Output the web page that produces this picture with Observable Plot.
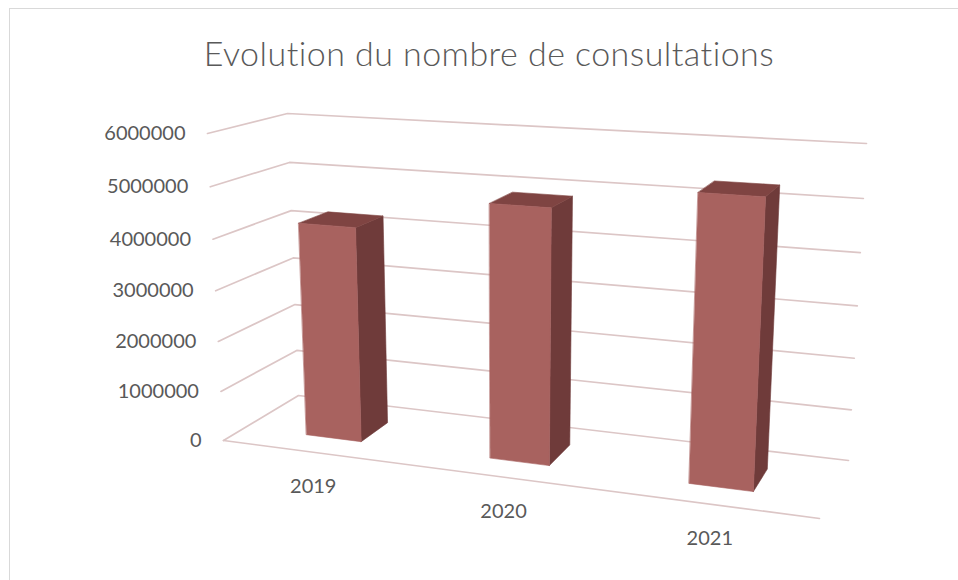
<!DOCTYPE html>
<html>
<head>
<meta charset="utf-8">
<script src="https://cdn.jsdelivr.net/npm/d3@7"></script>
<script src="https://cdn.jsdelivr.net/npm/@observablehq/plot@0.6"></script>
<style>
  html, body { margin: 0; padding: 0; background: #fff; overflow: hidden; width: 958px; height: 580px; }
  #frame { position: absolute; left: 9px; top: 8px; width: 1000px; height: 700px;
           border-left: 1px solid #d9d9d9; border-top: 1px solid #d9d9d9; box-sizing: border-box; }
  #title { position: absolute; left: 9px; top: 13px; width: 960px; height: 80px; text-align: center;
           font-family: Lato, "Open Sans", sans-serif; font-weight: 300; font-size: 34px; letter-spacing: 0.45px;
           color: #595959; line-height: 80px; white-space: nowrap; }
  #chart { position: absolute; left: 0; top: 88px; }
</style>
</head>
<body>
<div id="frame"></div>
<div id="title">Evolution du nombre de consultations</div>
<div id="chart"></div>
<script>
// ---- data ----
const years = ["2019", "2020", "2021"];
const consultations = [4240000, 4880000, 5330000];
const yTicks = [0, 1000000, 2000000, 3000000, 4000000, 5000000, 6000000];
const yMax = 6000000;

// ---- layout: 3-D view (page coordinates of the plot box corners) ----
const SVG_TOP = 88;
const W = 958, H = 492;
const box = {
  c000: [223, 440], c010: [207, 133], c001: [298, 395], c011: [287, 113],
  c100: [819, 518], c110: [837, 170], c101: [848, 460], c111: [866, 143]
};
const persU = 1.128, persV = 1.05;       // perspective foreshortening
const barWidth = 0.102, depth0 = 0.3, depth1 = 0.7;

const warp = (s, r) => s / (r + (1 - r) * s);
function P(u, t, w) {
  const a = warp(u, persU), b = warp(t, persV);
  const k = (c, i) => box[c][i];
  const res = [0, 1].map(i =>
    k("c000", i) * (1 - a) * (1 - b) * (1 - w) + k("c100", i) * a * (1 - b) * (1 - w) +
    k("c010", i) * (1 - a) * b * (1 - w) + k("c110", i) * a * b * (1 - w) +
    k("c001", i) * (1 - a) * (1 - b) * w + k("c101", i) * a * (1 - b) * w +
    k("c011", i) * (1 - a) * b * w + k("c111", i) * a * b * w);
  return { x: res[0], y: res[1] - SVG_TOP };
}

// gridlines: left wall + back wall for each tick
const gridPts = yTicks.flatMap(v => {
  const t = v / yMax;
  return [P(0, t, 0), P(0, t, 1), P(1, t, 1)].map(p => ({ ...p, tick: v }));
});
const floorEdge = [P(0, 0, 0), P(1, 0, 0)];

// bar faces
const bars = years.map((yr, i) => {
  const c = (i + 0.5) / years.length;
  return { yr, u0: c - barWidth / 2, u1: c + barWidth / 2, t: consultations[i] / yMax };
});
const face = (pts, id) => pts.map(p => ({ ...p, id }));
const fronts = bars.flatMap(b => face([P(b.u0, 0, depth0), P(b.u1, 0, depth0), P(b.u1, b.t, depth0), P(b.u0, b.t, depth0)], b.yr));
const sides  = bars.flatMap(b => face([P(b.u1, 0, depth0), P(b.u1, 0, depth1), P(b.u1, b.t, depth1), P(b.u1, b.t, depth0)], b.yr));
const tops   = bars.flatMap(b => face([P(b.u0, b.t, depth0), P(b.u1, b.t, depth0), P(b.u1, b.t, depth1), P(b.u0, b.t, depth1)], b.yr));

const chart = Plot.plot({
  width: W, height: H,
  marginTop: 0, marginRight: 0, marginBottom: 0, marginLeft: 0,
  x: { type: "linear", domain: [0, W], range: [0, W], axis: null },
  y: { type: "linear", domain: [0, H], range: [0, H], axis: null },
  style: { fontFamily: "Lato, 'Open Sans', sans-serif", fontSize: "20px", color: "#595959", background: "transparent", overflow: "visible" },
  marks: [
    Plot.line(gridPts, { x: "x", y: "y", z: "tick", stroke: "#dcc6c6", strokeWidth: 1.7 }),
    Plot.line(floorEdge, { x: "x", y: "y", stroke: "#dcc6c6", strokeWidth: 1.7 }),
    Plot.line(sides, { x: "x", y: "y", z: "id", curve: "linear-closed", fill: "#6f3b3a", stroke: "#6f3b3a", strokeWidth: 0.6 }),
    Plot.line(tops, { x: "x", y: "y", z: "id", curve: "linear-closed", fill: "#7f4442", stroke: "#7f4442", strokeWidth: 0.6 }),
    Plot.line(fronts, { x: "x", y: "y", z: "id", curve: "linear-closed", fill: "#a8625f", stroke: "#a8625f", strokeWidth: 0.6 }),
    Plot.text(yTicks, {
      x: d => P(0, d / yMax, 0).x, y: d => P(0, d / yMax, 0).y,
      text: d => String(d), textAnchor: "end", dx: -22, fill: "#595959", fontSize: 20
    }),
    Plot.text(years, {
      x: (d, i) => P((i + 0.5) / years.length, 0, 0).x, y: (d, i) => P((i + 0.5) / years.length, 0, 0).y,
      text: d => d, dy: 34, fill: "#595959", fontSize: 20
    })
  ]
});
document.getElementById("chart").appendChild(chart);
</script>
</body>
</html>
